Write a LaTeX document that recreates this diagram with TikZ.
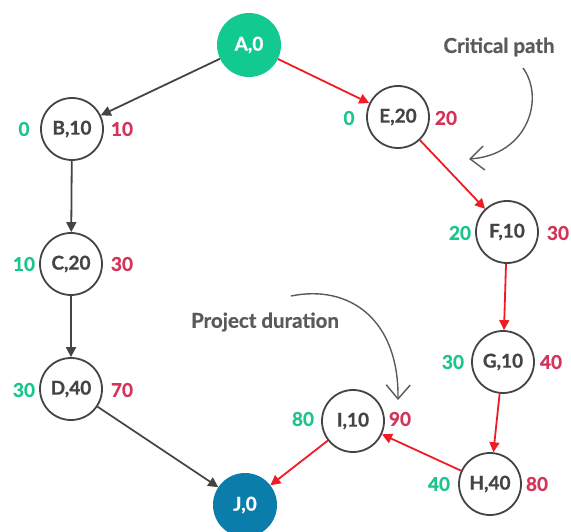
\documentclass[tikz,border=0pt]{standalone}
\usepackage{fontspec}
\setmainfont{Lato}
\newfontfamily\heavy{Lato Bold}[FakeBold=0.8]
\usetikzlibrary{arrows.meta}
\definecolor{agreen}{HTML}{12C990}
\definecolor{lgreen}{HTML}{1CC48E}
\definecolor{lred}{HTML}{D3345A}
\definecolor{ared}{HTML}{EE1C25}
\definecolor{jblue}{HTML}{0B7DAB}
\definecolor{ink}{HTML}{444444}
\definecolor{anno}{HTML}{5A5A5A}
\tikzset{
  task/.style={circle, minimum size=62pt, inner sep=0pt, draw=ink, line width=1.8pt,
    font=\heavy\fontsize{19}{19}\selectfont, text=ink},
  endtask/.style={circle, minimum size=64pt, inner sep=0pt, draw=none,
    font=\heavy\fontsize{19}{19}\selectfont, text=white},
  early/.style={font=\heavy\fontsize{19}{19}\selectfont, text=lgreen, inner sep=0pt},
  late/.style={font=\heavy\fontsize{19}{19}\selectfont, text=lred, inner sep=0pt},
  normal/.style={draw=ink, line width=1.8pt, -{Triangle[length=10pt,width=10pt]}},
  crit/.style={draw=ared, line width=1.8pt, -{Triangle[length=10pt,width=10pt]}},
  note/.style={font=\heavy\fontsize{20.5}{20.5}\selectfont, text=anno, inner sep=0pt},
  noteline/.style={draw=anno, line width=1.4pt, -{Straight Barb[length=14pt,width=24pt,line width=1.4pt]}}
}
\begin{document}
\begin{tikzpicture}[x=1pt,y=-1pt]
\useasboundingbox (0,0) rectangle (571,532);

\node[endtask, fill=agreen] (A) at (249,45) {A,0};
\node[task] (B) at (72,129) {B,10};
\node[task] (C) at (71,264) {C,20};
\node[task] (D) at (71,389) {D,40};
\node[task] (E) at (398,117) {E,20};
\node[task] (F) at (507,232) {F,10};
\node[task] (G) at (503,362) {G,10};
\node[task] (H) at (490,484) {H,40};
\node[task] (I) at (353,421) {I,10};
\node[endtask, fill=jblue] (J) at (245,505) {J,0};

\node[early] (Be) at (24,129) {0};
\node[late]  (Bl) at (122,129) {10};
\node[early] (Ce) at (24,264) {10};
\node[late]  (Cl) at (122,264) {30};
\node[early] (De) at (24,390) {30};
\node[late]  (Dl) at (122,390) {70};
\node[early] (Ee) at (349,118) {0};
\node[late]  (El) at (446,118) {20};
\node[early] (Fe) at (460,233) {20};
\node[late]  (Fl) at (558,233) {30};
\node[early] (Ge) at (453,362) {30};
\node[late]  (Gl) at (551,362) {40};
\node[early] (He) at (439,484) {40};
\node[late]  (Hl) at (537,484) {80};
\node[early] (Ie) at (303,419) {80};
\node[late]  (Il) at (400,419) {90};

\draw[normal] (A) -- (B);
\draw[normal] (B) -- (C);
\draw[normal] (C) -- (D);
\draw[normal] (D) -- (J);
\draw[crit] (A) -- (E);
\draw[crit] (E) -- (F);
\draw[crit] (F) -- (G);
\draw[crit] (G) -- (H);
\draw[crit] (H) -- (I);
\draw[crit] (I) -- (J);

\node[note] (cp) at (499,47) {Critical path};
\coordinate (cps) at (523,68);
\coordinate (cpe) at (469,159);
\draw[noteline] (cps) .. controls (545,98) and (528,155) .. (cpe);

\node[note] (pd) at (265,322) {Project duration};
\coordinate (pds) at (291,296);
\coordinate (pde) at (398,400);
\draw[noteline] (pds) .. controls (350,284) and (399,320) .. (pde);
\end{tikzpicture}
\end{document}
